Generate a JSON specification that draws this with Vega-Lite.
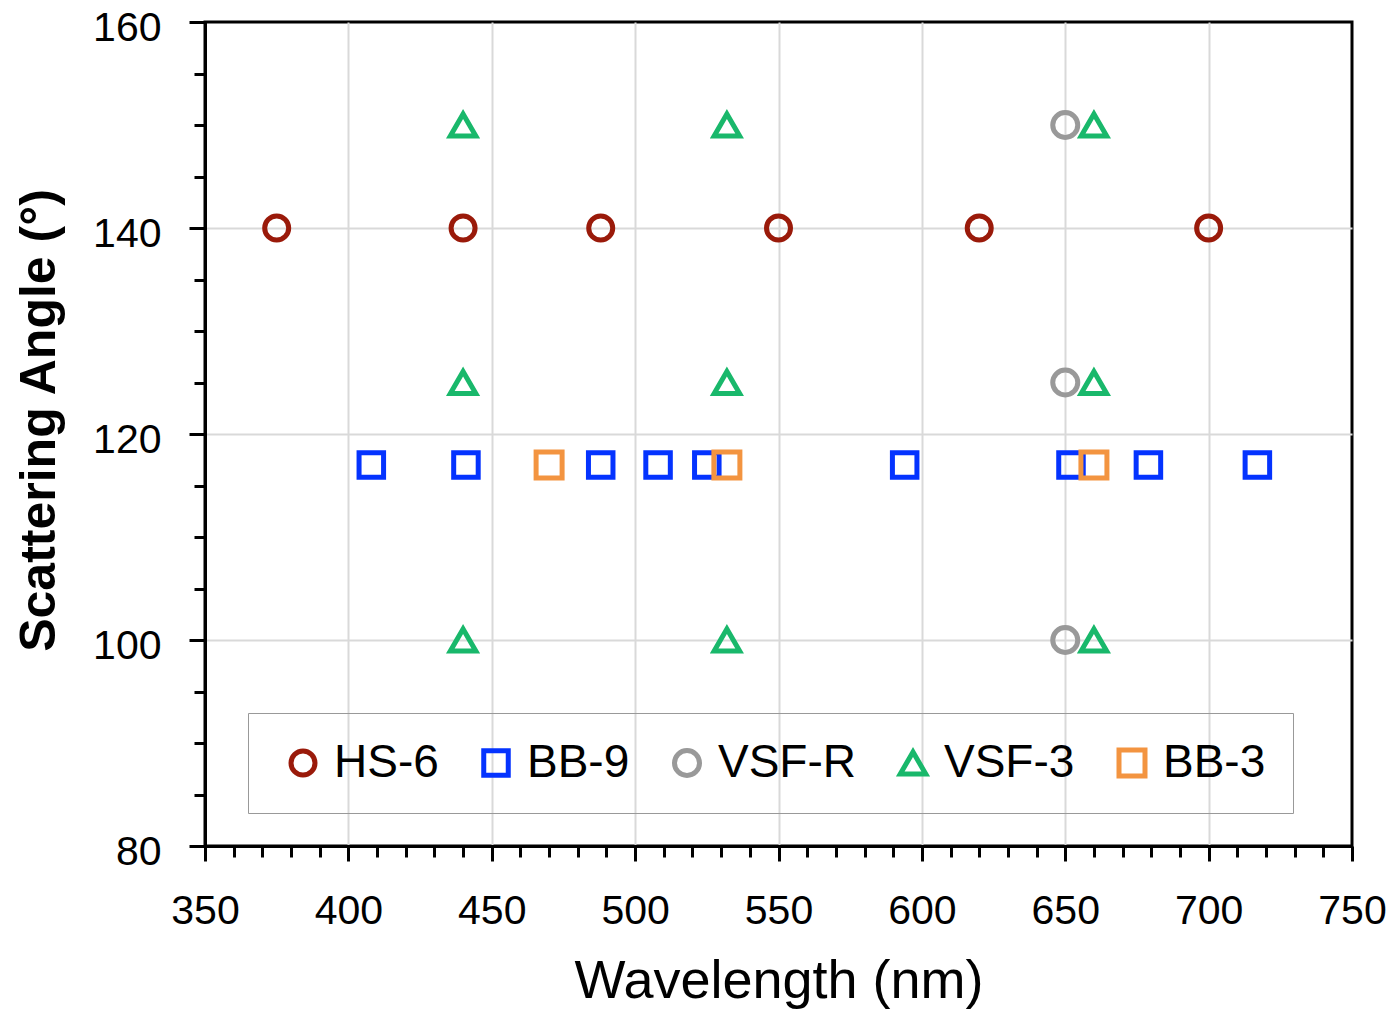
{
  "$schema": "https://vega.github.io/schema/vega-lite/v6.json",
  "width": 1147,
  "height": 824,
  "autosize": {"type": "none"},
  "padding": {"left": 205, "top": 22, "right": 40, "bottom": 165},
  "background": "white",
  "config": {
    "view": {"stroke": "black", "strokeWidth": 3},
    "font": "Liberation Sans"
  },
  "data": {
    "values": [
      {"series": "HS-6", "wavelength": 375, "angle": 140},
      {"series": "HS-6", "wavelength": 440, "angle": 140},
      {"series": "HS-6", "wavelength": 488, "angle": 140},
      {"series": "HS-6", "wavelength": 550, "angle": 140},
      {"series": "HS-6", "wavelength": 620, "angle": 140},
      {"series": "HS-6", "wavelength": 700, "angle": 140},
      {"series": "BB-9", "wavelength": 408, "angle": 117},
      {"series": "BB-9", "wavelength": 441, "angle": 117},
      {"series": "BB-9", "wavelength": 488, "angle": 117},
      {"series": "BB-9", "wavelength": 508, "angle": 117},
      {"series": "BB-9", "wavelength": 525, "angle": 117},
      {"series": "BB-9", "wavelength": 594, "angle": 117},
      {"series": "BB-9", "wavelength": 652, "angle": 117},
      {"series": "BB-9", "wavelength": 679, "angle": 117},
      {"series": "BB-9", "wavelength": 717, "angle": 117},
      {"series": "VSF-R", "wavelength": 650, "angle": 150},
      {"series": "VSF-R", "wavelength": 650, "angle": 125},
      {"series": "VSF-R", "wavelength": 650, "angle": 100},
      {"series": "VSF-3", "wavelength": 440, "angle": 150},
      {"series": "VSF-3", "wavelength": 440, "angle": 125},
      {"series": "VSF-3", "wavelength": 440, "angle": 100},
      {"series": "VSF-3", "wavelength": 532, "angle": 150},
      {"series": "VSF-3", "wavelength": 532, "angle": 125},
      {"series": "VSF-3", "wavelength": 532, "angle": 100},
      {"series": "VSF-3", "wavelength": 660, "angle": 150},
      {"series": "VSF-3", "wavelength": 660, "angle": 125},
      {"series": "VSF-3", "wavelength": 660, "angle": 100},
      {"series": "BB-3", "wavelength": 470, "angle": 117},
      {"series": "BB-3", "wavelength": 532, "angle": 117},
      {"series": "BB-3", "wavelength": 660, "angle": 117}
    ]
  },
  "mark": {"type": "point", "filled": false, "strokeWidth": 5, "opacity": 1},
  "encoding": {
    "x": {
      "field": "wavelength",
      "type": "quantitative",
      "scale": {"domain": [350, 750], "nice": false, "zero": false},
      "axis": {
        "title": "Wavelength (nm)",
        "titleFont": "Liberation Sans",
        "titleFontSize": 54,
        "titleFontWeight": "normal",
        "titleColor": "black",
        "titlePadding": 23,
        "values": [350,360,370,380,390,400,410,420,430,440,450,460,470,480,490,500,510,520,530,540,550,560,570,580,590,600,610,620,630,640,650,660,670,680,690,700,710,720,730,740,750],
        "labelExpr": "datum.value % 50 === 0 ? datum.label : ''",
        "labelFontSize": 41,
        "labelColor": "black",
        "labelPadding": 30,
        "labelFlush": false,
        "labelOverlap": false,
        "domainColor": "black",
        "domainWidth": 3,
        "tickColor": "black",
        "tickWidth": 3,
        "tickSize": {"condition": {"test": "datum.value % 50 === 0", "value": 15}, "value": 11},
        "grid": true,
        "gridColor": "#d9d9d9",
        "gridWidth": 2,
        "gridOpacity": {"condition": {"test": "datum.value % 50 === 0 && datum.value > 350 && datum.value < 750", "value": 1}, "value": 0}
      }
    },
    "y": {
      "field": "angle",
      "type": "quantitative",
      "scale": {"domain": [80, 160], "nice": false, "zero": false},
      "axis": {
        "title": "Scattering Angle (°)",
        "titleFont": "Liberation Sans",
        "titleFontSize": 50,
        "titleFontWeight": "bold",
        "titleColor": "black",
        "titlePadding": 28,
        "titleY": 398,
        "values": [80,85,90,95,100,105,110,115,120,125,130,135,140,145,150,155,160],
        "labelExpr": "datum.value % 20 === 0 ? datum.label : ''",
        "labelFontSize": 41,
        "labelColor": "black",
        "labelPadding": 28,
        "labelOffset": 6,
        "labelFlush": false,
        "labelOverlap": false,
        "domainColor": "black",
        "domainWidth": 3,
        "tickColor": "black",
        "tickWidth": 3,
        "tickSize": {"condition": {"test": "datum.value % 20 === 0", "value": 16}, "value": 11},
        "grid": true,
        "gridColor": "#d9d9d9",
        "gridWidth": 2,
        "gridOpacity": {"condition": {"test": "datum.value % 20 === 0 && datum.value > 80 && datum.value < 160", "value": 1}, "value": 0}
      }
    },
    "color": {
      "field": "series",
      "type": "nominal",
      "scale": {
        "domain": ["HS-6", "BB-9", "VSF-R", "VSF-3", "BB-3"],
        "range": ["#9a1a0a", "#0433ff", "#999999", "#19b86b", "#f39440"]
      },
      "legend": {
        "title": null,
        "orient": "none",
        "legendX": 43,
        "legendY": 691,
        "direction": "horizontal",
        "columns": 5,
        "padding": 27,
        "strokeColor": "#999999",
        "labelFont": "Liberation Sans",
        "labelFontSize": 46,
        "labelColor": "black",
        "labelLimit": 400,
        "labelOffset": 8,
        "columnPadding": 29,
        "symbolSize": 400,
        "symbolStrokeWidth": 5,
        "symbolOffset": 5,
        "encode": {"legend": {"update": {"strokeWidth": {"value": 2}}}}
      }
    },
    "shape": {
      "field": "series",
      "type": "nominal",
      "scale": {
        "domain": ["HS-6", "BB-9", "VSF-R", "VSF-3", "BB-3"],
        "range": ["circle", "square", "circle", "triangle-up", "square"]
      }
    },
    "size": {
      "field": "series",
      "type": "nominal",
      "scale": {
        "domain": ["HS-6", "BB-9", "VSF-R", "VSF-3", "BB-3"],
        "range": [576, 676, 576, 560, 676]
      },
      "legend": null
    }
  }
}
